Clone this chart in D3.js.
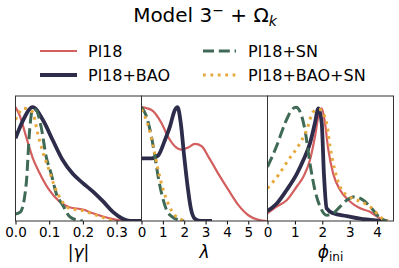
<!DOCTYPE html>
<html>
<head>
<meta charset="utf-8">
<script src="https://cdn.jsdelivr.net/npm/d3@7"></script>
<style>
  body { margin: 0; background: #fff; }
  svg { font-family: "DejaVu Sans", sans-serif; }
</style>
</head>
<body>
<div id="chart"></div>
<script>
// Series names and legend
var seriesNames = ["Pl18", "Pl18+BAO", "Pl18+SN", "Pl18+BAO+SN"];

// |gamma| panel: [x, density] pairs
var gammaPl18 = [[0,0.99],[0.012,0.92],[0.032,0.73],[0.051,0.55],[0.071,0.42],[0.10,0.27],[0.13,0.17],[0.16,0.12],[0.20,0.10],[0.23,0.067],[0.27,0.03],[0.30,0.01],[0.33,0],[0.374,0]];
var gammaBAO = [[0,0.72],[0.02,0.86],[0.051,0.99],[0.081,0.88],[0.111,0.70],[0.14,0.53],[0.17,0.41],[0.20,0.33],[0.23,0.255],[0.26,0.17],[0.289,0.08],[0.318,0.02],[0.34,0],[0.374,0]];
var gammaSN = [[0,0.06],[0.015,0.08],[0.032,0.33],[0.042,0.79],[0.05,0.965],[0.059,0.97],[0.076,0.82],[0.091,0.56],[0.106,0.41],[0.121,0.24],[0.14,0.14],[0.16,0.04],[0.18,0.01],[0.2,0]];
var gammaBAOSN = [[0,0.88],[0.025,0.98],[0.05,0.95],[0.066,0.76],[0.081,0.60],[0.10,0.44],[0.116,0.30],[0.136,0.18],[0.16,0.11],[0.20,0.09],[0.23,0.06],[0.26,0.03],[0.29,0]];

// lambda panel
var lambdaPl18 = [[0,0.99],[0.47,0.965],[0.94,0.85],[1.25,0.73],[1.56,0.65],[1.88,0.62],[2.19,0.64],[2.5,0.67],[2.82,0.65],[3.13,0.56],[3.6,0.41],[4.07,0.27],[4.53,0.14],[5.0,0.05],[5.47,0.01],[5.86,0]];
var lambdaBAO = [[0,0.545],[0.47,0.545],[0.78,0.57],[1.09,0.70],[1.33,0.82],[1.56,0.965],[1.69,0.99],[1.84,0.85],[2.0,0.56],[2.16,0.30],[2.31,0.11],[2.5,0.02],[2.8,0],[3.3,0]];
var lambdaSN = [[0,0.99],[0.23,0.91],[0.47,0.73],[0.63,0.56],[0.78,0.385],[0.94,0.24],[1.17,0.096],[1.41,0.04],[1.72,0.01],[2.0,0]];
var lambdaBAOSN = [[0,0.97],[0.28,0.85],[0.55,0.65],[0.78,0.44],[1.02,0.27],[1.25,0.15],[1.56,0.05],[1.88,0.01],[2.0,0]];

// phi_ini panel
var phiPl18 = [[0,0.067],[0.33,0.125],[0.70,0.18],[1.07,0.30],[1.31,0.385],[1.55,0.53],[1.73,0.73],[1.86,0.91],[1.98,0.98],[2.1,0.85],[2.22,0.62],[2.40,0.41],[2.65,0.27],[3.01,0.17],[3.38,0.11],[3.74,0.08],[3.99,0.04],[4.23,0.01],[4.4,0]];
var phiBAO = [[0,0.087],[0.33,0.15],[0.70,0.27],[1.07,0.41],[1.31,0.53],[1.55,0.675],[1.73,0.85],[1.86,0.98],[1.98,0.85],[2.06,0.41],[2.16,0.11],[2.40,0.067],[2.89,0.043],[3.38,0.02],[3.99,0.005],[4.3,0]];
var phiSN = [[0,0.47],[0.33,0.65],[0.64,0.85],[0.88,0.965],[1.04,0.99],[1.19,0.95],[1.37,0.79],[1.55,0.50],[1.73,0.27],[1.92,0.125],[2.16,0.05],[2.40,0.067],[2.65,0.125],[2.89,0.18],[3.19,0.21],[3.50,0.18],[3.80,0.11],[4.05,0.04],[4.29,0.005],[4.4,0]];
var phiBAOSN = [[0,0.285],[0.40,0.40],[0.76,0.53],[1.12,0.65],[1.43,0.79],[1.67,0.95],[1.9,0.97],[2.16,0.85],[2.28,0.65],[2.46,0.44],[2.71,0.27],[3.01,0.21],[3.38,0.17],[3.74,0.125],[3.99,0.067],[4.29,0.005],[4.4,0]];

// tick labels
var gammaTicks = [0, 0.1, 0.2, 0.3];
var lambdaTicks = [0, 1, 2, 3, 4, 5];
var phiTicks = [0, 1, 2, 3, 4];

var styles = [
  { color: "#d35f5f", width: 2.2, dash: null },
  { color: "#2d2c4b", width: 3.8, dash: null },
  { color: "#3f6a56", width: 3, dash: "11,4.8" },
  { color: "#e8a93c", width: 3, dash: "2.8,4.6" }
];

var svgWidth = 399, svgHeight = 268;
var svg = d3.select("#chart").append("svg")
  .attr("width", svgWidth)
  .attr("height", svgHeight);

// title
var title = svg.append("text")
  .attr("x", 205)
  .attr("y", 22)
  .attr("text-anchor", "middle")
  .attr("font-size", "20px")
  .attr("fill", "#000");
title.append("tspan").text("Model 3");
title.append("tspan").attr("font-size", "14px").attr("dy", -7).text("\u2212");
title.append("tspan").attr("dy", 7).text(" + \u03A9");
title.append("tspan").attr("font-size", "14px").attr("font-style", "italic").attr("dy", 4).text("k");

// legend
var legendPos = [
  { x: 40, y: 51 }, { x: 40, y: 75 },
  { x: 203, y: 51 }, { x: 203, y: 75 }
];
seriesNames.forEach(function(name, i) {
  var p = legendPos[i];
  var s = styles[i];
  var sampleLen = i < 2 ? 37 : 33;
  svg.append("line")
    .attr("x1", p.x).attr("x2", p.x + sampleLen)
    .attr("y1", p.y).attr("y2", p.y)
    .attr("stroke", s.color)
    .attr("stroke-width", s.width)
    .attr("stroke-dasharray", s.dash);
  svg.append("text")
    .attr("x", i < 2 ? 88 : 248)
    .attr("y", p.y + 6)
    .attr("font-size", "16px")
    .text(name);
});

// panels
var plotTop = 96, plotBottom = 221, panelW = 126;
var panels = [
  { left: 15.5, domain: [0, 0.374], ticks: gammaTicks, fmt: d3.format(".1f"), label: "gamma", series: [gammaPl18, gammaBAO, gammaSN, gammaBAOSN] },
  { left: 141.5, domain: [0, 5.9], ticks: lambdaTicks, fmt: d3.format("d"), label: "lambda", series: [lambdaPl18, lambdaBAO, lambdaSN, lambdaBAOSN] },
  { left: 267.5, domain: [0, 4.6], ticks: phiTicks, fmt: d3.format("d"), label: "phi", series: [phiPl18, phiBAO, phiSN, phiBAOSN] }
];

var y = d3.scaleLinear().domain([0, 1.087]).range([plotBottom, plotTop]);

panels.forEach(function(pn, pi) {
  var x = d3.scaleLinear().domain(pn.domain).range([pn.left, pn.left + panelW]);

  svg.append("clipPath").attr("id", "clip" + pi)
    .append("rect")
    .attr("x", pn.left).attr("y", plotTop - 5)
    .attr("width", panelW).attr("height", plotBottom - plotTop + 5);

  var g = svg.append("g").attr("clip-path", "url(#clip" + pi + ")");

  var line = d3.line()
    .x(function(d) { return x(d[0]); })
    .y(function(d) { return y(d[1]); })
    .curve(d3.curveMonotoneX);

  pn.series.forEach(function(data, si) {
    var s = styles[si];
    g.append("path")
      .datum(data)
      .attr("fill", "none")
      .attr("stroke", s.color)
      .attr("stroke-width", s.width)
      .attr("stroke-dasharray", s.dash)
      .attr("stroke-linejoin", "round")
      .attr("d", line);
  });

  // x axis
  var axis = svg.append("g")
    .attr("transform", "translate(0," + plotBottom + ")")
    .call(d3.axisBottom(x).tickValues(pn.ticks).tickFormat(pn.fmt).tickSize(3.5).tickPadding(3));
  axis.select(".domain").remove();
  axis.selectAll("line").attr("stroke", "#000");
  axis.selectAll("text").attr("font-size", "13.5px").attr("font-family", "DejaVu Sans, sans-serif").attr("fill", "#000");

  // frame
  svg.append("rect")
    .attr("x", pn.left).attr("y", plotTop)
    .attr("width", panelW).attr("height", plotBottom - plotTop)
    .attr("fill", "none")
    .attr("stroke", "#333")
    .attr("stroke-width", 1);

  // axis label
  var lab = svg.append("text")
    .attr("x", pn.left + panelW / 2)
    .attr("y", 258)
    .attr("text-anchor", "middle")
    .attr("font-size", "17px");
  if (pn.label === "gamma") {
    lab.append("tspan").text("|");
    lab.append("tspan").attr("font-style", "italic").text("\u03B3");
    lab.append("tspan").text("|");
  } else if (pn.label === "lambda") {
    lab.append("tspan").attr("font-style", "italic").text("\u03BB");
  } else {
    lab.append("tspan").attr("font-style", "italic").text("\u03D5");
    lab.append("tspan").attr("font-size", "12px").attr("dy", 3).text("ini");
  }
});
</script>
</body>
</html>
